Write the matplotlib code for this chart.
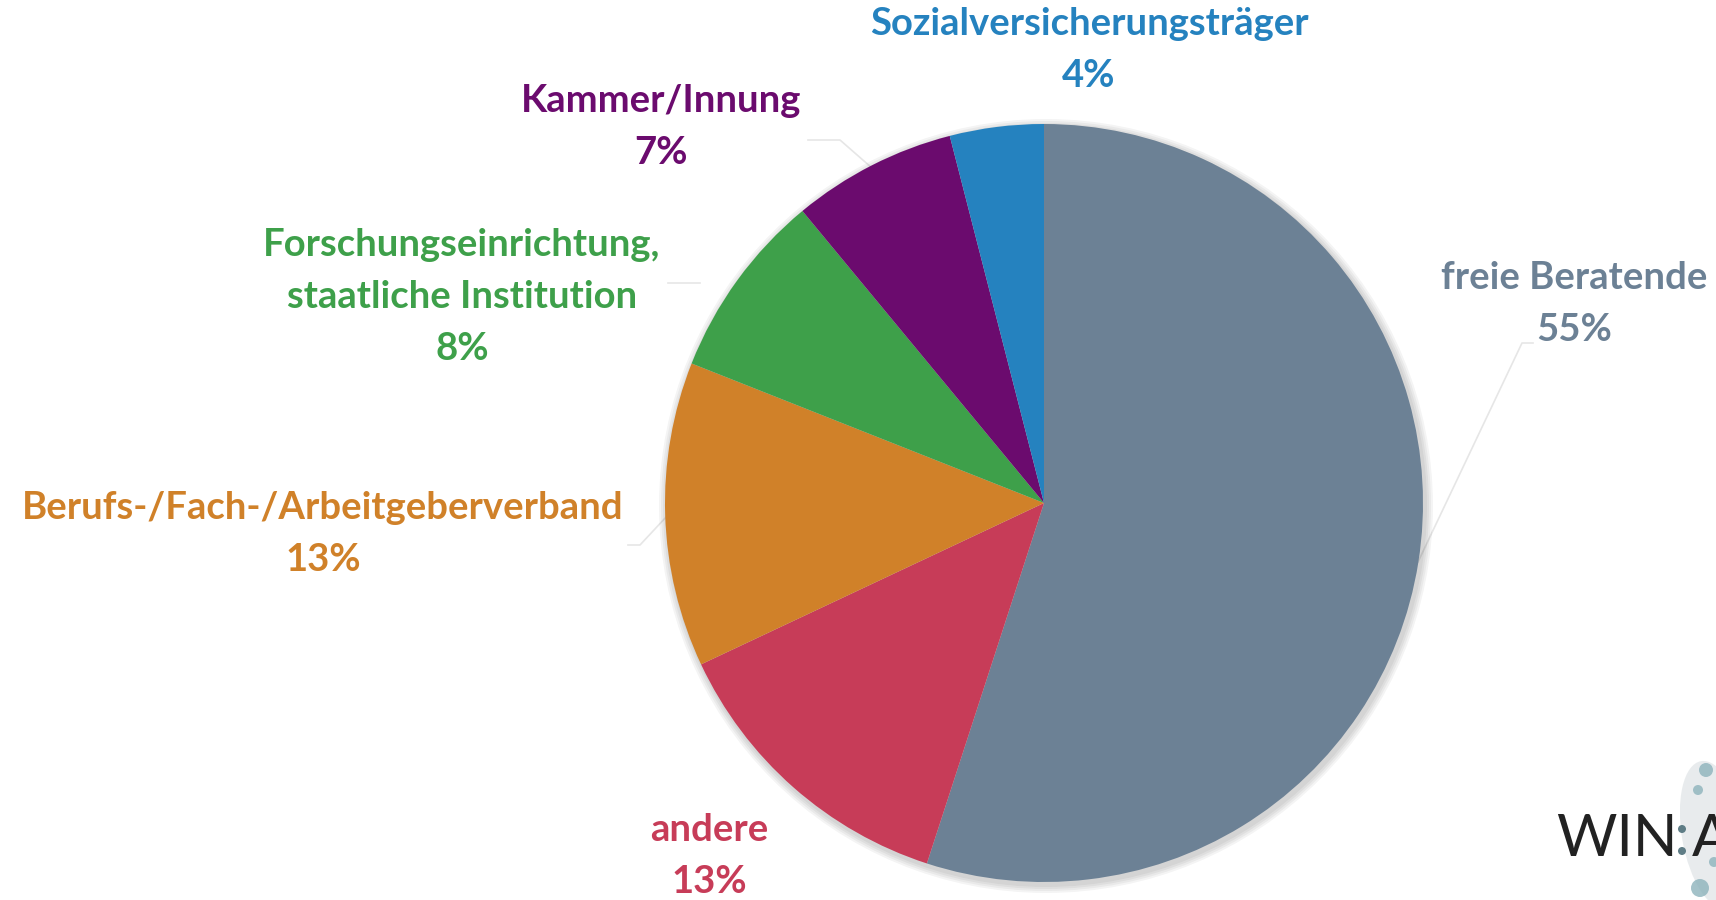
import matplotlib.pyplot as plt
from matplotlib.patches import Circle, Ellipse

labels = ['freie Beratende', 'andere', 'Berufs-/Fach-/Arbeitgeberverband',
          'Forschungseinrichtung,\nstaatliche Institution', 'Kammer/Innung',
          'Sozialversicherungsträger']
shares = [55, 13, 13, 8, 7, 4]
colors = ['#6C8195', '#C73C58', '#D08129', '#3EA04A', '#6B0B6E', '#2582BF']

# label anchor (centre x, y of first line) in pixels from top-left
label_pos = [(1574, 278), (709, 830), (323, 508), (462, 245), (661, 101), (1089, 24)]
line_step = 52
leaders = [[(1418, 562), (1522, 343), (1533, 343)], None,
           [(668, 515), (640, 545), (628, 545)],
           [(700, 283), (668, 283)], [(872, 168), (840, 140), (808, 140)], None]

W, H = 1716, 900
fig = plt.figure(figsize=(W / 100, H / 100), dpi=100)
ax = fig.add_axes([0, 0, 1, 1])

cx, cy, r = 1044, H - 503, 379

# soft shadow
for i in range(4):
    ax.add_patch(Circle((cx + 2, cy - 3), r + 2 + 2 * i, color='black', alpha=0.045, lw=0, zorder=1))

ax.pie(shares, colors=colors, startangle=90, counterclock=False,
       center=(cx, cy), radius=r, frame=True,
       wedgeprops=dict(linewidth=0, zorder=2))
ax.set_xlim(0, W)
ax.set_ylim(0, H)
ax.set_aspect('equal')
ax.axis('off')

for lab, pct, col, (x, y), ld in zip(labels, shares, colors, label_pos, leaders):
    lines = lab.split('\n') + ['%d%%' % pct]
    for k, line in enumerate(lines):
        ax.text(x, H - (y + k * line_step), line, color=col, fontsize=27.5,
                fontweight='bold', family='Lato', ha='center', va='center', zorder=5)
    if ld is not None:
        ax.plot([p[0] for p in ld], [H - p[1] for p in ld], color='#E6E6E6', lw=1.2, zorder=0)

# logo fragment bottom right
ax.add_patch(Ellipse((1714, H - 835), 64, 150, angle=10, color='#E3E7E9', alpha=0.8, lw=0))
for (dx, dy, rr) in [(1706, 770, 7), (1698, 790, 5), (1700, 888, 9), (1714, 862, 5)]:
    ax.add_patch(Circle((dx, H - dy), rr, color='#8DB3BC', alpha=0.8, lw=0))
ax.text(1556, H - 840, 'WIN', fontsize=42, family='Lato', fontweight='normal',
        color='#222222', ha='left', va='center')
for dy in (829, 851):
    ax.add_patch(Circle((1682, H - dy), 4, color='#5F7D86', lw=0, zorder=6))
ax.text(1692, H - 840, 'A', fontsize=42, family='Lato', fontweight='normal',
        color='#222222', ha='left', va='center')

fig.savefig('out.png', dpi=100)
